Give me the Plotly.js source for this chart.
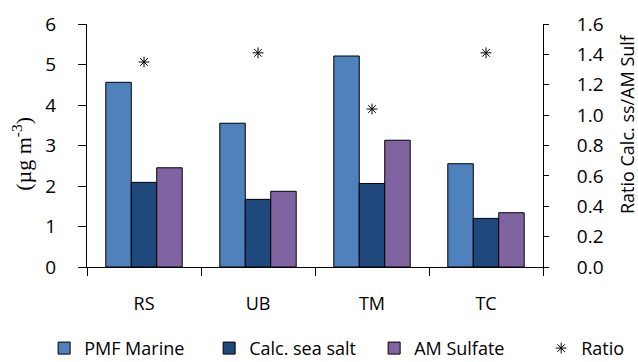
<!DOCTYPE html>
<html>
<head>
<meta charset="utf-8">
<script src="https://cdn.plot.ly/plotly-3.0.1.min.js"></script>
<style>html,body{margin:0;padding:0;background:#fff;}#chart{width:638px;height:362px;}</style>
</head>
<body>
<div id="chart"></div>
<script>
const categories = ["RS", "UB", "TM", "TC"];
const pmfMarine = [4.56, 3.55, 5.21, 2.55];
const calcSeaSalt = [2.09, 1.67, 2.06, 1.20];
const amSulfate = [2.45, 1.87, 3.13, 1.34];
const ratio = [1.35, 1.41, 1.04, 1.41];
const leftTicks = [0, 1, 2, 3, 4, 5, 6];
const rightTicks = [0, 0.2, 0.4, 0.6, 0.8, 1.0, 1.2, 1.4, 1.6];

const FONT = "'Open Sans', 'Liberation Sans', sans-serif";
const barLine = {color: "#000", width: 1};

const traces = [
  {type: "bar", name: "PMF Marine", x: categories, y: pmfMarine, marker: {color: "#4F81BD", line: barLine}},
  {type: "bar", name: "Calc. sea salt", x: categories, y: calcSeaSalt, marker: {color: "#1F497D", line: barLine}},
  {type: "bar", name: "AM Sulfate", x: categories, y: amSulfate, marker: {color: "#8064A2", line: barLine}},
  {type: "scatter", mode: "markers", name: "Ratio", x: categories, y: ratio, yaxis: "y2", legend: "legend2",
   marker: {symbol: "asterisk-open", size: 9, color: "#000", line: {color: "#000", width: 1}}}
];

const legendFont = {family: FONT, size: 18, color: "#000"};

const layout = {
  width: 638, height: 362,
  margin: {l: 87, r: 95, t: 24, b: 95, autoexpand: false},
  paper_bgcolor: "#fff", plot_bgcolor: "#fff",
  font: {family: FONT, size: 18, color: "#000"},
  barmode: "group", bargap: 0.33, bargroupgap: 0,
  showlegend: true,
  legend: {orientation: "h", x: -0.094, xanchor: "left", y: -0.335, yanchor: "middle",
           font: legendFont, traceorder: "normal", itemwidth: 30,
           entrywidth: 120, entrywidthmode: "pixels", bgcolor: "rgba(0,0,0,0)"},
  legend2: {orientation: "h", x: 0.996, xanchor: "left", y: -0.335, yanchor: "middle",
            font: legendFont, itemwidth: 30, bgcolor: "rgba(0,0,0,0)"},
  xaxis: {type: "category", showline: true, linecolor: "#000", linewidth: 1,
          ticks: "outside", tickson: "boundaries", ticklen: 8, tickcolor: "#000",
          showgrid: false, zeroline: false, tickfont: {family: FONT, size: 18}, ticklabelstandoff: 20},
  yaxis: {range: [0, 6], tickvals: leftTicks, showline: true, linecolor: "#000", linewidth: 1,
          ticks: "outside", ticklen: 8, tickcolor: "#000", showgrid: false, zeroline: false,
          tickfont: {family: FONT, size: 19}, ticklabelstandoff: 18},
  yaxis2: {range: [0, 1.6], tickvals: rightTicks, tickformat: ".1f", overlaying: "y", side: "right",
           showline: true, linecolor: "#000", linewidth: 1, ticks: "outside", ticklen: 5, tickcolor: "#000",
           showgrid: false, zeroline: false, tickfont: {family: FONT, size: 19}, ticklabelstandoff: 24},
  annotations: [
    {text: "(µg m<sup>-3</sup>)", xref: "paper", yref: "paper", x: -0.143, y: 0.465, textangle: -90,
     showarrow: false, xanchor: "center", yanchor: "middle",
     font: {family: "'Liberation Serif', 'Times New Roman', serif", size: 22, color: "#000"}},
    {text: "Ratio Calc. ss/AM Sulf", xref: "paper", yref: "paper", x: 1.183, y: 0.59, textangle: -90,
     showarrow: false, xanchor: "center", yanchor: "middle",
     font: {family: FONT, size: 18, color: "#000"}}
  ]
};

Plotly.newPlot("chart", traces, layout, {displayModeBar: false, staticPlot: true});
</script>
</body>
</html>
